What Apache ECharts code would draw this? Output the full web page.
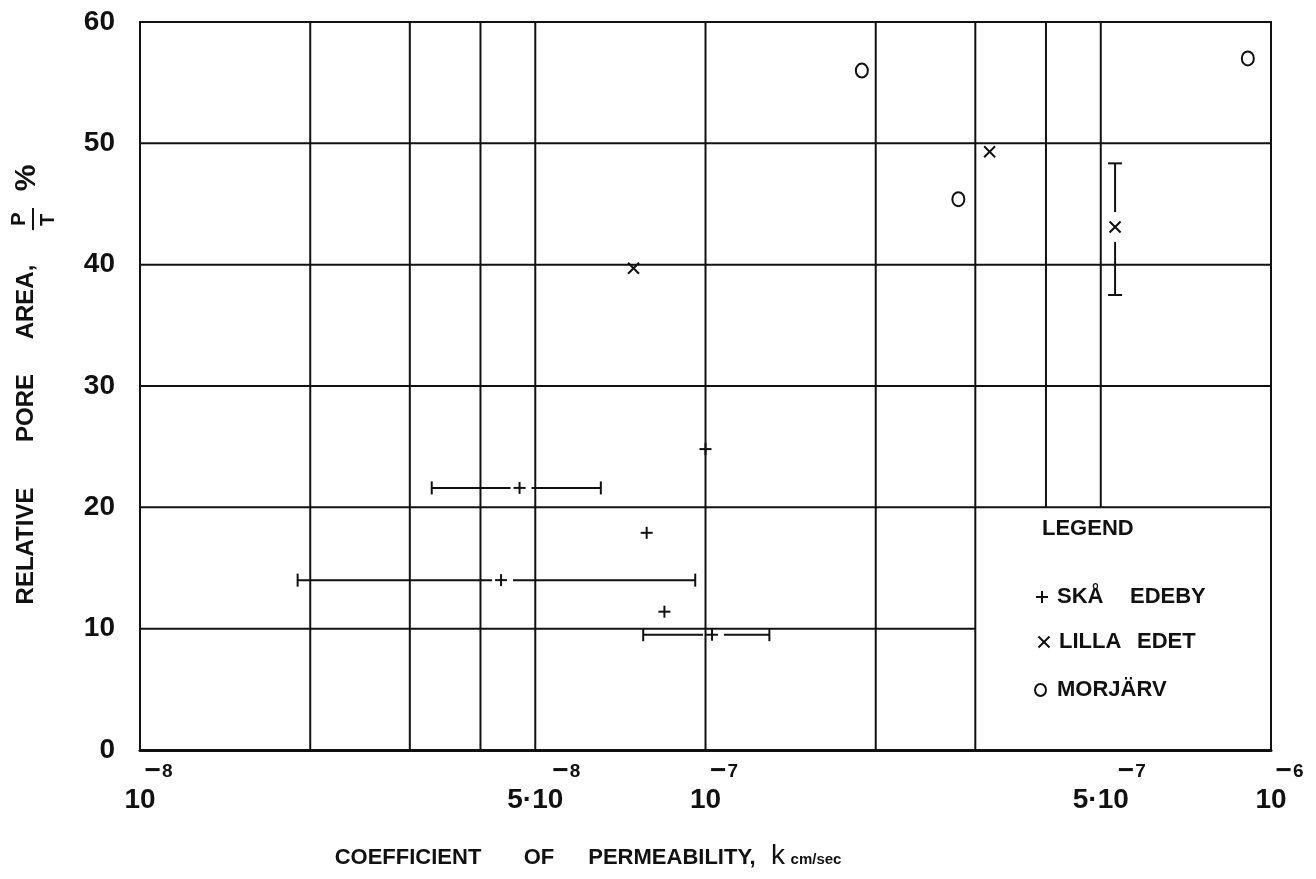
<!DOCTYPE html>
<html><head><meta charset="utf-8">
<script src="https://cdn.jsdelivr.net/npm/echarts@6/dist/echarts.min.js"></script>
<style>html,body{margin:0;padding:0;background:#fff}#c{width:1316px;height:879px}</style>
</head><body><div id="c"></div>
<script>
// ---- tick labels ----
const xTickValues = [1e-8, 5e-8, 1e-7, 5e-7, 1e-6];
const xTickBase = ['10', '5·10', '10', '5·10', '10'];
const xTickExp = ['−8', '−8', '−7', '−7', '−6'];
const xGridValues = [2e-8, 3e-8, 4e-8, 5e-8, 1e-7, 2e-7, 3e-7, 4e-7, 5e-7];
const yGridValues = [10, 20, 30, 40, 50];

// ---- Skå Edeby (+), horizontal range bars ----
const skaX = [1.0e-7, 4.69e-8, 7.87e-8, 4.35e-8, 8.46e-8, 1.027e-7];
const skaY = [24.8, 21.6, 17.9, 14.0, 11.4, 9.5];
const skaXLow = [null, 3.28e-8, null, 1.90e-8, null, 7.76e-8];
const skaXHigh = [null, 6.53e-8, null, 9.59e-8, null, 1.297e-7];

// ---- Lilla Edet (x), vertical range bar ----
const lillaX = [7.46e-8, 3.18e-7, 5.30e-7];
const lillaY = [39.7, 49.3, 43.1];
const lillaYLow = [null, null, 37.5];
const lillaYHigh = [null, null, 48.35];

// ---- Morjärv (o) ----
const morjX = [1.89e-7, 2.80e-7, 9.1e-7];
const morjY = [56.0, 45.4, 57.0];

const X_MIN = 1e-8, X_MAX = 1e-6, Y_MIN = 0, Y_MAX = 60;
const LEGEND_X = 3e-7, LEGEND_Y = 20;
const FONT = '"Liberation Sans", Arial, sans-serif';
const INK = '#111';

const chart = echarts.init(document.getElementById('c'), null, {renderer: 'canvas'});

const measureCtx = document.createElement('canvas').getContext('2d');
function textWidth(t, font) { measureCtx.font = font; return measureCtx.measureText(t).width; }

function line(x1, y1, x2, y2, w) {
  return {type: 'line', shape: {x1, y1, x2, y2}, style: {stroke: INK, lineWidth: w || 2}};
}
function T(text, x, y, font, rot, align) {
  return {type: 'text', x, y, rotation: rot || 0, silent: true,
    style: {text, font, fill: INK, align: align || 'center', verticalAlign: 'middle',
      textAlign: align || 'center', textVerticalAlign: 'middle'}};
}

const skaData = skaX.map((x, i) => [x, skaY[i]]);
const skaBars = skaX.map((x, i) => [x, skaY[i], skaXLow[i], skaXHigh[i]]).filter(d => d[2] != null);
const lillaData = lillaX.map((x, i) => [x, lillaY[i]]);
const lillaBars = lillaX.map((x, i) => [x, lillaY[i], lillaYLow[i], lillaYHigh[i]]).filter(d => d[2] != null);
const morjData = morjX.map((x, i) => [x, morjY[i]]);

const baseFont = 'bold 28px ' + FONT;
const minusFont = 'bold 28px ' + FONT;
const expFont = 'bold 19px ' + FONT;
const LBL = 'bold 22px ' + FONT;

const option = {
  animation: false,
  backgroundColor: '#fff',
  grid: {left: 140, right: 45, top: 22, bottom: 129, show: true, borderColor: INK, borderWidth: 2,
    backgroundColor: 'transparent', outerBoundsMode: 'none', containLabel: false},
  xAxis: {type: 'log', logBase: 10, min: X_MIN, max: X_MAX,
    axisLine: {show: true, lineStyle: {color: INK, width: 3}},
    axisTick: {show: false}, axisLabel: {show: false}, splitLine: {show: false}, minorSplitLine: {show: false}},
  yAxis: {type: 'value', min: Y_MIN, max: Y_MAX, interval: 10,
    axisLine: {show: true, lineStyle: {color: INK, width: 2}},
    axisTick: {show: false}, splitLine: {show: false},
    axisLabel: {color: INK, fontSize: 28, fontWeight: 'bold', fontFamily: FONT, margin: 25}},
  series: [
    { // vertical grid lines
      type: 'custom', silent: true, z: 1, clip: false,
      data: xGridValues.map(v => [v, Y_MIN]),
      renderItem(params, api) {
        const v = api.value(0);
        const a = api.coord([v, v > LEGEND_X * 1.01 ? LEGEND_Y : Y_MIN]);
        const b = api.coord([v, Y_MAX]);
        return line(a[0], a[1], b[0], b[1], 2);
      }
    },
    { // horizontal grid lines
      type: 'custom', silent: true, z: 1, clip: false,
      data: yGridValues.map(v => [X_MIN, v]),
      renderItem(params, api) {
        const v = api.value(1);
        const a = api.coord([X_MIN, v]);
        const b = api.coord([v < LEGEND_Y ? LEGEND_X : X_MAX, v]);
        return line(a[0], a[1], b[0], b[1], 2);
      }
    },
    { // x tick labels (base with superscript exponent)
      type: 'custom', silent: true, z: 3, clip: false,
      data: xTickValues.map(v => [v, Y_MIN]),
      renderItem(params, api) {
        const i = params.dataIndex;
        const c = api.coord([api.value(0), Y_MIN]);
        const bw = textWidth(xTickBase[i], baseFont);
        const ex = c[0] + bw / 2 - 11;
        const sign = xTickExp[i].charAt(0);
        const digits = xTickExp[i].slice(1);
        const mw = textWidth(sign, minusFont);
        return {type: 'group', children: [
          {type: 'text', x: c[0], y: c[1] + 50, style: {text: xTickBase[i], font: baseFont, fill: INK,
            align: 'center', verticalAlign: 'middle', textAlign: 'center', textVerticalAlign: 'middle'}},
          {type: 'text', x: ex, y: c[1] + 21, style: {text: sign, font: minusFont, fill: INK,
            align: 'left', verticalAlign: 'middle', textAlign: 'left', textVerticalAlign: 'middle'}},
          {type: 'text', x: ex + mw + 1, y: c[1] + 22, style: {text: digits, font: expFont, fill: INK,
            align: 'left', verticalAlign: 'middle', textAlign: 'left', textVerticalAlign: 'middle'}}
        ]};
      }
    },
    { // Skå Edeby horizontal range bars
      type: 'custom', silent: true, z: 5, clip: false,
      data: skaBars,
      renderItem(params, api) {
        const c = api.coord([api.value(0), api.value(1)]);
        const lo = api.coord([api.value(2), api.value(1)]);
        const hi = api.coord([api.value(3), api.value(1)]);
        const cap = 6.5;
        return {type: 'group', children: [
          line(lo[0], c[1], c[0] - 9, c[1], 2),
          line(c[0] + 12, c[1], hi[0], c[1], 2),
          line(lo[0], c[1] - cap, lo[0], c[1] + cap, 2),
          line(hi[0], c[1] - cap, hi[0], c[1] + cap, 2)
        ]};
      }
    },
    { // Skå Edeby markers (+)
      type: 'custom', silent: true, z: 6, clip: false,
      data: skaData,
      renderItem(params, api) {
        const c = api.coord([api.value(0), api.value(1)]);
        const h = 6;
        return {type: 'group', children: [
          line(c[0] - h, c[1], c[0] + h, c[1], 2),
          line(c[0], c[1] - h, c[0], c[1] + h, 2)
        ]};
      }
    },
    { // Lilla Edet vertical range bar
      type: 'custom', silent: true, z: 5, clip: false,
      data: lillaBars,
      renderItem(params, api) {
        const c = api.coord([api.value(0), api.value(1)]);
        const lo = api.coord([api.value(0), api.value(2)]);
        const hi = api.coord([api.value(0), api.value(3)]);
        const cap = 7;
        return {type: 'group', children: [
          line(c[0], hi[1], c[0], c[1] - 15, 2),
          line(c[0], c[1] + 15, c[0], lo[1], 2),
          line(c[0] - cap, hi[1], c[0] + cap, hi[1], 2),
          line(c[0] - cap, lo[1], c[0] + cap, lo[1], 2)
        ]};
      }
    },
    { // Lilla Edet markers (x)
      type: 'custom', silent: true, z: 6, clip: false,
      data: lillaData,
      renderItem(params, api) {
        const c = api.coord([api.value(0), api.value(1)]);
        const h = 5.5;
        return {type: 'group', children: [
          line(c[0] - h, c[1] - h, c[0] + h, c[1] + h, 2),
          line(c[0] - h, c[1] + h, c[0] + h, c[1] - h, 2)
        ]};
      }
    },
    { // Morjärv markers (o)
      type: 'custom', silent: true, z: 6, clip: false,
      data: morjData,
      renderItem(params, api) {
        const c = api.coord([api.value(0), api.value(1)]);
        return {type: 'ellipse', shape: {cx: c[0], cy: c[1], rx: 6, ry: 7},
          style: {fill: 'none', stroke: INK, lineWidth: 2}};
      }
    }
  ],
  graphic: [
    // y-axis title
    T('RELATIVE', 26, 546, 'bold 24px ' + FONT, Math.PI / 2),
    T('PORE', 26, 408, 'bold 24px ' + FONT, Math.PI / 2),
    T('AREA,', 26, 302, 'bold 24px ' + FONT, Math.PI / 2),
    T('P', 19, 219, 'bold 20px ' + FONT, Math.PI / 2),
    line(33, 208, 33, 230, 2),
    T('T', 48, 220, 'bold 20px ' + FONT, Math.PI / 2),
    T('%', 27, 178, 'bold 30px ' + FONT, Math.PI / 2),
    // x-axis title
    T('COEFFICIENT', 408, 858, LBL),
    T('OF', 539, 858, LBL),
    T('PERMEABILITY,', 672, 858, LBL),
    T('k', 778, 856, '28px ' + FONT),
    T('cm/sec', 816, 860, 'bold 15px ' + FONT),
    // legend
    T('LEGEND', 1042, 529, LBL, 0, 'left'),
    line(1036, 597, 1048, 597, 2), line(1042, 591, 1042, 603, 2),
    T('SKÅ', 1057, 597, LBL, 0, 'left'),
    T('EDEBY', 1130, 597, LBL, 0, 'left'),
    line(1038.5, 636.5, 1049.5, 647.5, 2), line(1038.5, 647.5, 1049.5, 636.5, 2),
    T('LILLA', 1059, 642, LBL, 0, 'left'),
    T('EDET', 1137, 642, LBL, 0, 'left'),
    {type: 'ellipse', shape: {cx: 1040.5, cy: 690, rx: 5.5, ry: 6}, style: {fill: 'none', stroke: INK, lineWidth: 2}},
    T('MORJÄRV', 1057, 690, LBL, 0, 'left')
  ]
};
chart.setOption(option);
</script></body></html>
